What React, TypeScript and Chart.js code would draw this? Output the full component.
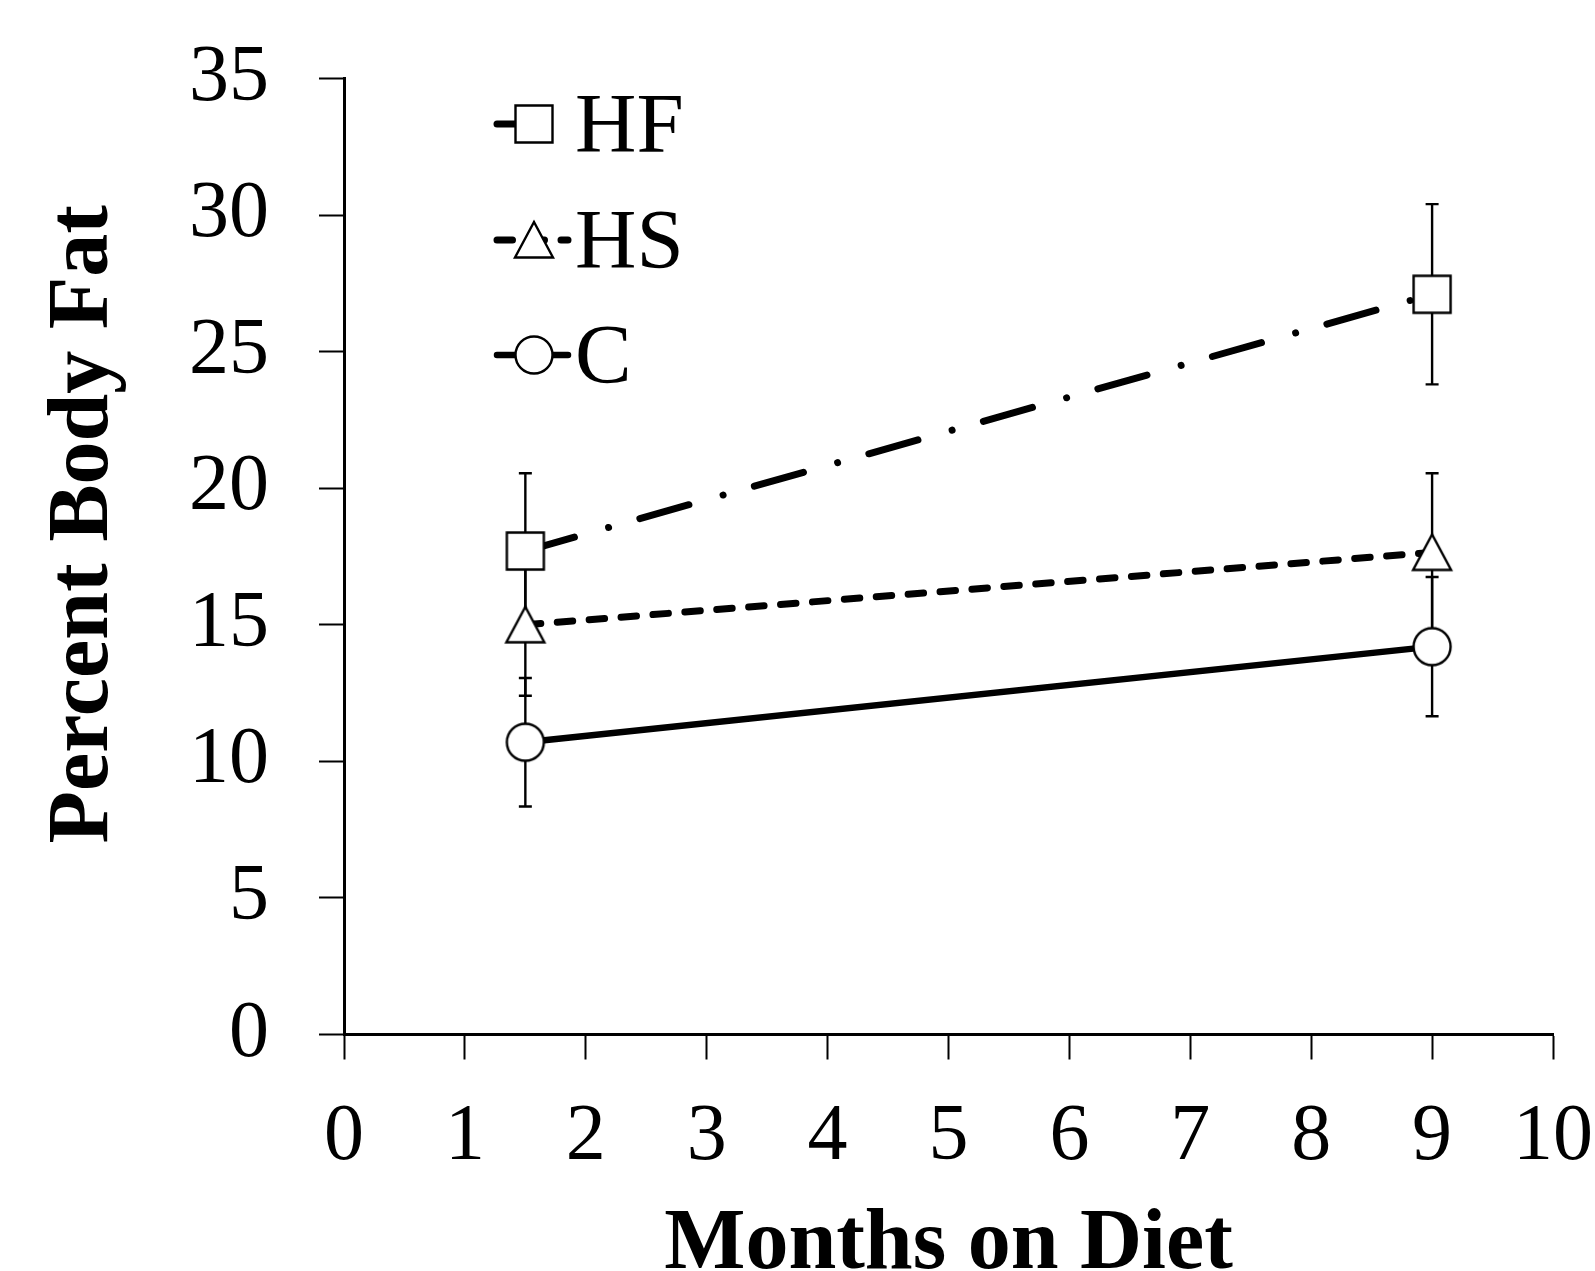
import React, { useEffect, useRef } from 'react';
import { Chart, registerables } from 'chart.js';

Chart.register(...registerables);

// ---- data ----
const months = [1.5, 9];
const seriesLabels = ['HF', 'HS', 'C'];
const hfValues = [17.7, 27.1];
const hsValues = [15.0, 17.65];
const cValues = [10.7, 14.2];
const hfErr = [2.85, 3.3];
const hsErr = [2.6, 2.9];
const cErr = [2.35, 2.55];
const xTitle = 'Months on Diet';
const yTitle = 'Percent Body Fat';

const FONT = "'Liberation Serif', 'Times New Roman', serif";

function makeMarker(kind: string): HTMLCanvasElement {
  const c = document.createElement('canvas');
  c.width = 44;
  c.height = 44;
  const g = c.getContext('2d')!;
  g.fillStyle = '#ffffff';
  g.strokeStyle = '#000000';
  g.lineWidth = 2.4;
  g.lineJoin = 'miter';
  g.beginPath();
  if (kind === 'square') {
    g.rect(3.5, 3.5, 37, 37);
  } else if (kind === 'triangle') {
    g.moveTo(22, 4);
    g.lineTo(41, 39.5);
    g.lineTo(3, 39.5);
    g.closePath();
  } else {
    g.arc(22, 22, 18.5, 0, Math.PI * 2);
  }
  g.fill();
  g.stroke();
  return c;
}

const errorBarPlugin = {
  id: 'errorBars',
  beforeDatasetsDraw(chart: any) {
    const ctx = chart.ctx;
    const xs = chart.scales.x;
    const ys = chart.scales.y;
    ctx.save();
    ctx.strokeStyle = '#000';
    ctx.lineWidth = 2.4;
    ctx.lineCap = 'butt';
    chart.data.datasets.forEach((ds: any) => {
      ds.data.forEach((p: any, j: number) => {
        const x = xs.getPixelForValue(p.x);
        const yt = ys.getPixelForValue(p.y + ds.err[j]);
        const yb = ys.getPixelForValue(p.y - ds.err[j]);
        ctx.beginPath();
        ctx.moveTo(x, yt);
        ctx.lineTo(x, yb);
        ctx.moveTo(x - 6.5, yt);
        ctx.lineTo(x + 6.5, yt);
        ctx.moveTo(x - 6.5, yb);
        ctx.lineTo(x + 6.5, yb);
        ctx.stroke();
      });
    });
    ctx.restore();
  },
};

const legendPlugin = {
  id: 'excelLegend',
  afterDraw(chart: any) {
    const ctx = chart.ctx;
    const rows = [124, 240, 355];
    ctx.save();
    chart.data.datasets.forEach((ds: any, i: number) => {
      const y = rows[i];
      ctx.beginPath();
      ctx.strokeStyle = '#000';
      ctx.lineWidth = ds.borderWidth;
      ctx.lineCap = 'round';
      ctx.setLineDash(ds.borderDash || []);
      ctx.moveTo(497, y);
      ctx.lineTo(568, y);
      ctx.stroke();
      ctx.setLineDash([]);
      const img = ds.pointStyle as HTMLCanvasElement;
      ctx.drawImage(img, 534 - img.width / 2, y - img.height / 2);
      ctx.fillStyle = '#000';
      ctx.font = `85px ${FONT}`;
      ctx.textAlign = 'left';
      ctx.textBaseline = 'alphabetic';
      ctx.fillText(ds.label, 575, y + 28);
    });
    ctx.restore();
  },
};

export default function App() {
  const ref = useRef<HTMLCanvasElement>(null);

  useEffect(() => {
    const canvas = ref.current!;
    const markers = [makeMarker('square'), makeMarker('triangle'), makeMarker('circle')];
    const values = [hfValues, hsValues, cValues];
    const errs = [hfErr, hsErr, cErr];
    const dashes = [[51, 35.5, 0.01, 32.5], [15.5, 16.5], []];
    const widths = [7, 7, 6.5];

    const chart = new Chart(canvas, {
      type: 'line',
      data: {
        datasets: seriesLabels.map((label, i) => ({
          label,
          data: months.map((m, j) => ({ x: m, y: values[i][j] })),
          err: errs[i],
          borderColor: '#000',
          borderWidth: widths[i],
          borderDash: dashes[i],
          borderCapStyle: 'round',
          pointStyle: markers[i],
          pointRadius: 19,
          pointHoverRadius: 19,
          fill: false,
          tension: 0,
        })) as any,
      },
      options: {
        animation: false,
        responsive: false,
        devicePixelRatio: 1,
        events: [],
        layout: { padding: { left: 0, top: 78.5, right: 42, bottom: 0 } },
        plugins: {
          legend: { display: false },
          tooltip: { enabled: false },
        },
        scales: {
          x: {
            type: 'linear',
            min: 0,
            max: 10,
            ticks: {
              stepSize: 1,
              color: '#000',
              font: { family: FONT, size: 80, lineHeight: 1.95 },
              padding: 0,
              maxRotation: 0,
              autoSkip: false,
            },
            grid: {
              display: true,
              drawOnChartArea: false,
              drawTicks: true,
              tickLength: 25,
              tickWidth: 2,
              tickColor: '#000',
            },
            border: { display: true, color: '#000', width: 3 },
            title: {
              display: true,
              text: xTitle,
              color: '#000',
              font: { family: FONT, size: 86, weight: 'bold', lineHeight: 0.58 },
              padding: { top: 0, bottom: 0 },
            },
            afterFit: (s: any) => {
              s.height = 1271 - 1034.5;
            },
          },
          y: {
            type: 'linear',
            min: 0,
            max: 35,
            ticks: {
              stepSize: 5,
              color: '#000',
              font: { family: FONT, size: 80, lineHeight: 0.7 },
              padding: 50,
            },
            grid: {
              display: true,
              drawOnChartArea: false,
              drawTicks: true,
              tickLength: 25,
              tickWidth: 2,
              tickColor: '#000',
            },
            border: { display: true, color: '#000', width: 3 },
            title: {
              display: true,
              text: '   ' + yTitle,
              color: '#000',
              font: { family: FONT, size: 86, weight: 'bold', lineHeight: 0.77 },
              padding: { top: 52, bottom: 0 },
            },
            afterFit: (s: any) => {
              s.width = 344;
            },
          },
        },
      } as any,
      plugins: [errorBarPlugin, legendPlugin],
    });
    return () => chart.destroy();
  }, []);

  return (
    <div style={{ position: 'absolute', left: 0, top: 0, width: 1595, height: 1271, background: '#fff' }}>
      <canvas ref={ref} width={1595} height={1271} style={{ width: 1595, height: 1271, display: 'block' }} />
    </div>
  );
}
